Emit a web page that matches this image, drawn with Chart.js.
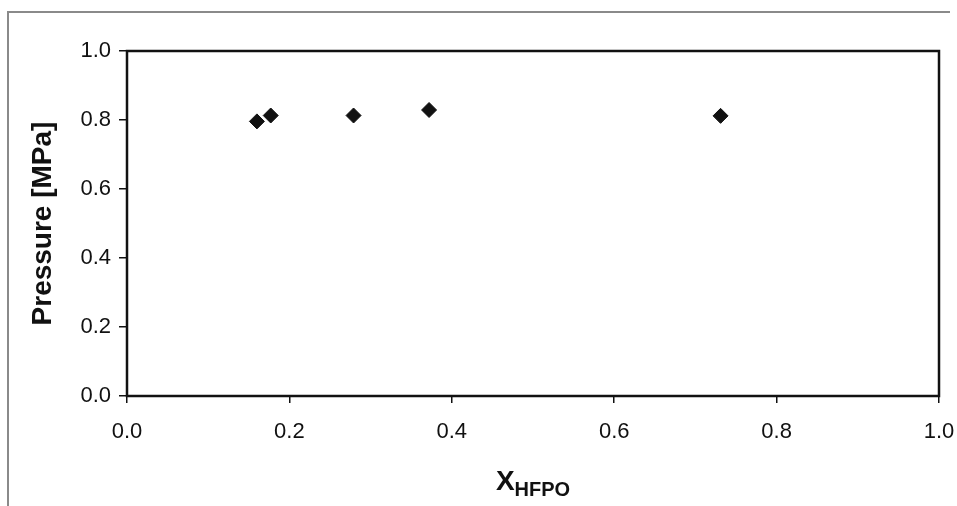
<!DOCTYPE html>
<html>
<head>
<meta charset="utf-8">
<script src="https://cdn.jsdelivr.net/npm/chart.js@4/dist/chart.umd.min.js"></script>
<style>
  html, body { margin: 0; padding: 0; background: #fff; }
  #wrap { width: 957px; height: 506px; position: relative; }
</style>
</head>
<body>
<div id="wrap"><canvas id="grafico" width="957" height="506"></canvas></div>
<script>
// valores
const fraccionHFPO = [0.160, 0.177, 0.279, 0.372, 0.731]
const presion = [0.796, 0.813, 0.813, 0.829, 0.812]
const ticksX = [0.0, 0.2, 0.4, 0.6, 0.8, 1.0]
const ticksY = [0.0, 0.2, 0.4, 0.6, 0.8, 1.0]

const fuente = 'Arial, "Liberation Sans", sans-serif'

// marco del area de datos, bordes del escaneo y titulo del eje x con subindice
const marco = {
    id: 'marco',
    beforeDraw(chart) {
        const ctx = chart.ctx
        ctx.save()
        ctx.strokeStyle = '#8a8a8a'
        ctx.lineWidth = 2
        ctx.beginPath()
        ctx.moveTo(8, 506)
        ctx.lineTo(8, 12)
        ctx.lineTo(950, 12)
        ctx.stroke()
        ctx.restore()
    },
    afterDraw(chart) {
        const ctx = chart.ctx
        const a = chart.chartArea
        ctx.save()
        ctx.strokeStyle = '#111'
        ctx.lineWidth = 2.5
        ctx.strokeRect(a.left, a.top, a.right - a.left, a.bottom - a.top)

        ctx.fillStyle = '#111'
        ctx.textBaseline = 'alphabetic'
        ctx.font = 'bold 28px ' + fuente
        const w1 = ctx.measureText('X').width
        ctx.font = 'bold 20px ' + fuente
        const w2 = ctx.measureText('HFPO').width
        const x0 = (a.left + a.right) / 2 - (w1 + w2) / 2
        ctx.font = 'bold 28px ' + fuente
        ctx.fillText('X', x0, 490)
        ctx.font = 'bold 20px ' + fuente
        ctx.fillText('HFPO', x0 + w1, 496)
        ctx.restore()
    }
}

const datasets = [{
    label: 'Pressure',
    data: fraccionHFPO.map((x, i) => ({ x, y: presion[i] })),
    backgroundColor: '#111',
    borderColor: '#111',
    pointStyle: 'rectRot',
    pointRadius: 7.5,
    pointHoverRadius: 7.5
}]

const config = {
    type: 'scatter',
    data: { datasets },
    plugins: [marco],
    options: {
        responsive: false,
        animation: false,
        layout: { padding: { top: 51, right: 18, left: 0, bottom: 0 } },
        plugins: { legend: { display: false }, tooltip: { enabled: false } },
        scales: {
            x: {
                type: 'linear',
                min: 0, max: 1,
                afterFit: s => { s.height = 110; s.paddingLeft = 0; s.paddingRight = 0 },
                afterBuildTicks: s => { s.ticks = ticksX.map(v => ({ value: v })) },
                grid: { drawOnChartArea: false, drawTicks: true, tickLength: 7, color: '#111', lineWidth: 1.5 },
                border: { display: false },
                ticks: {
                    color: '#111',
                    padding: 16,
                    maxRotation: 0,
                    font: { family: fuente, size: 22 },
                    callback: v => v.toFixed(1)
                }
            },
            y: {
                type: 'linear',
                min: 0, max: 1,
                afterFit: s => { s.width = 127; s.paddingTop = 0; s.paddingBottom = 0 },
                afterBuildTicks: s => { s.ticks = ticksY.map(v => ({ value: v })) },
                grid: { drawOnChartArea: false, drawTicks: true, tickLength: 8, color: '#111', lineWidth: 1.5 },
                border: { display: false },
                ticks: {
                    color: '#111',
                    padding: 8,
                    font: { family: fuente, size: 22 },
                    callback: v => v.toFixed(1)
                },
                title: {
                    display: true,
                    text: 'Pressure [MPa]',
                    color: '#111',
                    padding: { top: 26, bottom: 0 },
                    font: { family: fuente, size: 28, weight: 'bold' }
                }
            }
        }
    }
}

new Chart(document.getElementById('grafico'), config)
</script>
</body>
</html>
